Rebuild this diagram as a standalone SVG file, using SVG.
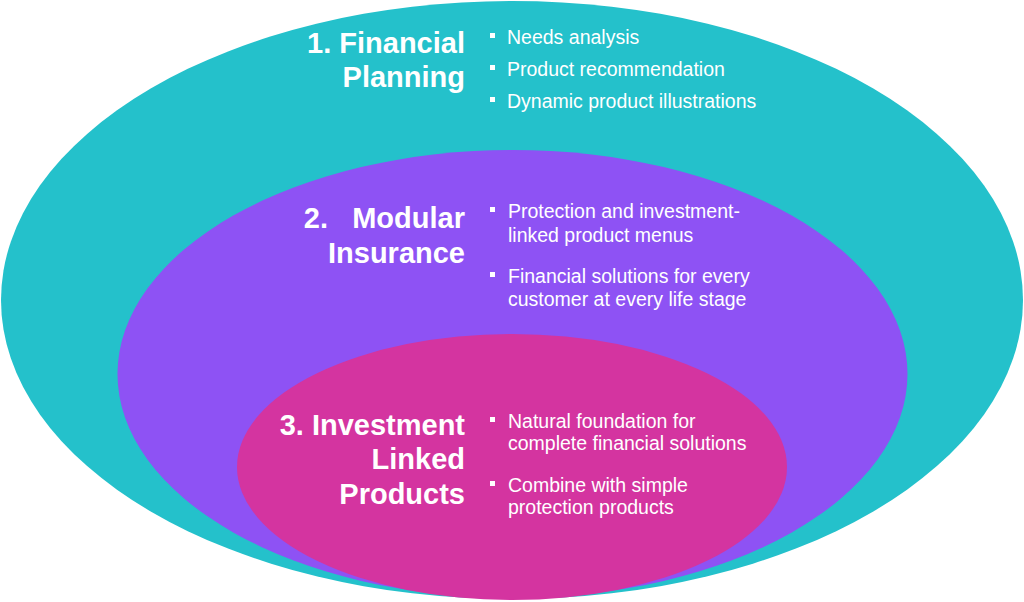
<svg xmlns="http://www.w3.org/2000/svg" width="1024" height="602" viewBox="0 0 1024 602">
<style>
.title{font-family:"Liberation Sans",Arial,sans-serif;font-weight:bold;font-size:29px;fill:#ffffff;text-anchor:end}
.item{font-family:"Liberation Sans",Arial,sans-serif;font-size:19.5px;fill:#ffffff}
.dot{fill:#ffffff}
</style>
<rect width="1024" height="602" fill="#ffffff"/>
<g id="node-financial-planning">
<ellipse cx="512" cy="300" rx="511" ry="299" fill="#24C1CB"/>
<text class="title" x="465" y="53">1. Financial</text>
<text class="title" x="465" y="87">Planning</text>
<rect class="dot" x="490" y="33" width="5" height="5"/>
<text class="item" x="507" y="44">Needs analysis</text>
<rect class="dot" x="490" y="65" width="5" height="5"/>
<text class="item" x="507" y="76">Product recommendation</text>
<rect class="dot" x="490" y="97" width="5" height="5"/>
<text class="item" x="507" y="108">Dynamic product illustrations</text>
</g>
<g id="node-modular-insurance">
<ellipse cx="512.5" cy="374" rx="395" ry="224" fill="#8E52F4"/>
<text class="title" x="465" y="228" xml:space="preserve">2.   Modular</text>
<text class="title" x="465" y="263">Insurance</text>
<rect class="dot" x="490" y="207" width="5" height="5"/>
<text class="item" x="508" y="218">Protection and investment-</text>
<text class="item" x="508" y="242">linked product menus</text>
<rect class="dot" x="490" y="272" width="5" height="5"/>
<text class="item" x="508" y="283">Financial solutions for every</text>
<text class="item" x="508" y="306">customer at every life stage</text>
</g>
<g id="node-investment-linked">
<ellipse cx="512" cy="467" rx="275" ry="133" fill="#D434A0"/>
<text class="title" x="465" y="435">3. Investment</text>
<text class="title" x="465" y="469">Linked</text>
<text class="title" x="465" y="504">Products</text>
<rect class="dot" x="490" y="417" width="5" height="5"/>
<text class="item" x="508" y="428">Natural foundation for</text>
<text class="item" x="508" y="450">complete financial solutions</text>
<rect class="dot" x="490" y="481" width="5" height="5"/>
<text class="item" x="508" y="492">Combine with simple</text>
<text class="item" x="508" y="514">protection products</text>
</g>
<g id="connectors"></g>
</svg>
